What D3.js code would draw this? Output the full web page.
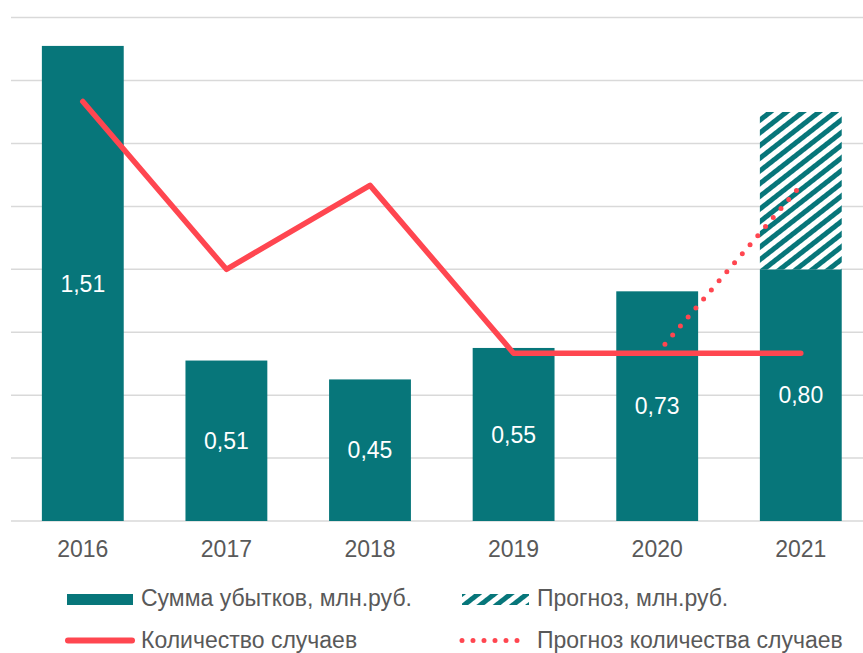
<!DOCTYPE html>
<html>
<head>
<meta charset="utf-8">
<script src="https://cdn.jsdelivr.net/npm/d3@7"></script>
<style>
  body { margin: 0; background: #fff; }
  text { font-family: 'Liberation Sans', Arial, sans-serif; }
</style>
</head>
<body>
<svg class="chart" width="863" height="653"></svg>
<script>
// Data
const years = ['2016', '2017', '2018', '2019', '2020', '2021']
const losses = [1.51, 0.51, 0.45, 0.55, 0.73, 0.80]
// forecast add-on stacked on top of the 2021 bar
const lossForecast = [0, 0, 0, 0, 0, 0.50]
const cases = [5, 3, 4, 2, 2, 2]
const casesForecast = [null, null, null, null, 2, 4]
const yTicks = [0, 0.2, 0.4, 0.6, 0.8, 1.0, 1.2, 1.4, 1.6]
const legendNames = ['Сумма убытков, млн.руб.', 'Прогноз, млн.руб.', 'Количество случаев', 'Прогноз количества случаев']

const teal = '#07767a'
const red = '#ff4650'
const grey = '#595959'

const svg = d3.select('.chart')

const plotLeft = 11
const plotBottom = 521
const plotTop = 17.6

const xScale = d3
  .scaleBand()
  .domain(years)
  .range([plotLeft, plotLeft + 6 * 143.6])
  .paddingInner(0.43)
  .paddingOuter(0.215)

const yScale = d3.scaleLinear().domain([0, 1.6]).range([plotBottom, plotTop])
const y2Scale = d3.scaleLinear().domain([0, 6]).range([plotBottom, plotTop])

// hatch pattern for forecast
const defs = svg.append('defs')
const pat = defs
  .append('pattern')
  .attr('id', 'hatch')
  .attr('patternUnits', 'userSpaceOnUse')
  .attr('width', 10)
  .attr('height', 10)
  .attr('patternTransform', 'rotate(52)')
pat.append('rect').attr('width', 10).attr('height', 10).attr('fill', '#fff')
pat.append('rect').attr('width', 5).attr('height', 10).attr('fill', teal)

// horizontal grid lines
svg
  .append('g')
  .attr('class', 'grid')
  .selectAll('line')
  .data(yTicks)
  .enter()
  .append('line')
  .attr('x1', plotLeft)
  .attr('x2', 863)
  .attr('y1', d => yScale(d))
  .attr('y2', d => yScale(d))
  .attr('stroke', '#d9d9d9')
  .attr('stroke-width', 1.5)

const rows = years.map((y, i) => ({
  year: y,
  loss: losses[i],
  fc: lossForecast[i],
  cases: cases[i],
  casesFc: casesForecast[i],
}))

// bars
svg
  .append('g')
  .selectAll('rect')
  .data(rows)
  .enter()
  .append('rect')
  .attr('x', d => xScale(d.year))
  .attr('y', d => yScale(d.loss))
  .attr('width', xScale.bandwidth())
  .attr('height', d => plotBottom - yScale(d.loss))
  .attr('fill', teal)

svg
  .append('g')
  .selectAll('rect')
  .data(rows.filter(d => d.fc > 0))
  .enter()
  .append('rect')
  .attr('x', d => xScale(d.year))
  .attr('y', d => yScale(d.loss + d.fc))
  .attr('width', xScale.bandwidth())
  .attr('height', d => yScale(d.loss) - yScale(d.loss + d.fc))
  .attr('fill', 'url(#hatch)')

// value labels inside the bars
svg
  .append('g')
  .selectAll('text')
  .data(rows)
  .enter()
  .append('text')
  .attr('x', d => xScale(d.year) + xScale.bandwidth() / 2)
  .attr('y', d => (yScale(d.loss) + plotBottom) / 2)
  .attr('dy', '0.35em')
  .attr('text-anchor', 'middle')
  .attr('fill', '#fff')
  .attr('font-size', 23)
  .text(d => d3.format('.2f')(d.loss).replace('.', ','))

const cx = d => xScale(d.year) + xScale.bandwidth() / 2

// forecast count line (dotted)
svg
  .append('path')
  .datum(rows.filter(d => d.casesFc !== null))
  .attr('fill', 'none')
  .attr('stroke', red)
  .attr('stroke-width', 5)
  .attr('stroke-linecap', 'round')
  .attr('stroke-dasharray', '0 11.9')
  .attr('d', d3.line().x(cx).y(d => y2Scale(d.casesFc)))

// count line
svg
  .append('path')
  .datum(rows)
  .attr('fill', 'none')
  .attr('stroke', red)
  .attr('stroke-width', 5.5)
  .attr('stroke-linecap', 'round')
  .attr('stroke-linejoin', 'round')
  .attr('d', d3.line().x(cx).y(d => y2Scale(d.cases)))

// x axis labels
svg
  .append('g')
  .selectAll('text')
  .data(years)
  .enter()
  .append('text')
  .attr('x', d => xScale(d) + xScale.bandwidth() / 2)
  .attr('y', 557)
  .attr('text-anchor', 'middle')
  .attr('fill', grey)
  .attr('font-size', 23)
  .text(d => d)

// legend
const legend = svg.append('g').attr('class', 'legend')

legend.append('rect').attr('x', 67).attr('y', 594).attr('width', 66).attr('height', 11).attr('fill', teal)
legend.append('rect').attr('x', 462).attr('y', 594).attr('width', 67).attr('height', 11).attr('fill', 'url(#hatch)')
legend
  .append('line')
  .attr('x1', 68).attr('x2', 132).attr('y1', 640.5).attr('y2', 640.5)
  .attr('stroke', red).attr('stroke-width', 6).attr('stroke-linecap', 'round')
legend
  .append('line')
  .attr('x1', 462).attr('x2', 520).attr('y1', 640.5).attr('y2', 640.5)
  .attr('stroke', red).attr('stroke-width', 5).attr('stroke-linecap', 'round')
  .attr('stroke-dasharray', '0 11')

const legendPos = [[141, 606], [537, 606], [141, 648], [537, 648]]
legend
  .selectAll('text')
  .data(legendNames)
  .enter()
  .append('text')
  .attr('x', (d, i) => legendPos[i][0])
  .attr('y', (d, i) => legendPos[i][1])
  .attr('fill', grey)
  .attr('font-size', 23)
  .text(d => d)
</script>
</body>
</html>
